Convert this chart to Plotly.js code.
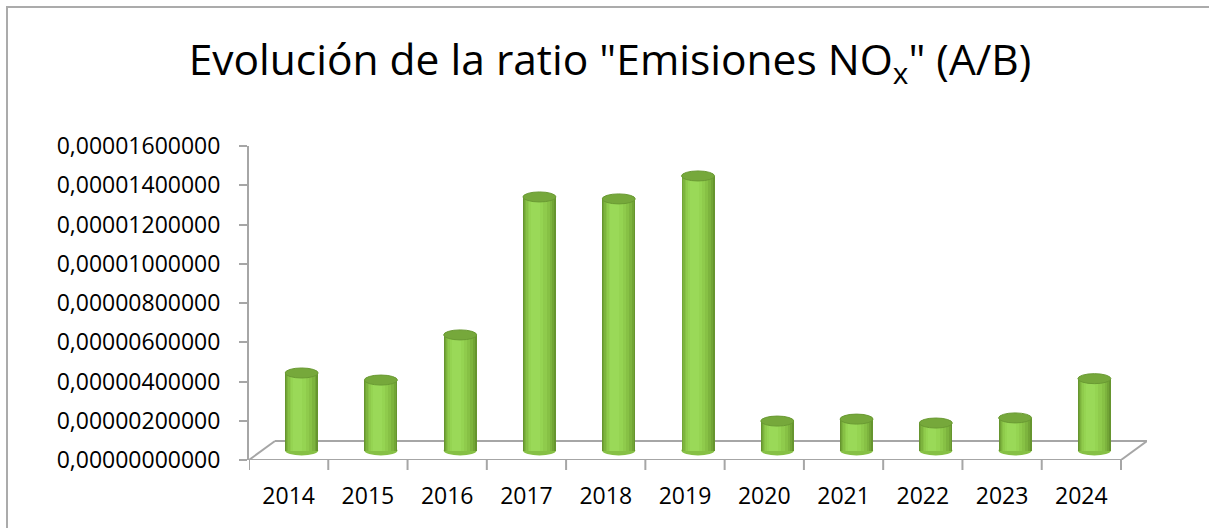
<!DOCTYPE html>
<html>
<head>
<meta charset="utf-8">
<script src="https://cdn.plot.ly/plotly-3.0.1.min.js"></script>
<style>
  html, body { margin: 0; padding: 0; background: #ffffff; overflow: hidden; }
  #wrap { position: relative; width: 1209px; height: 528px; overflow: hidden; }
  #chart { position: absolute; left: 0; top: 0; width: 1209px; height: 528px; }
  #frame { position: absolute; left: 6px; top: 6px; width: 1300px; height: 700px;
           border: 2px solid #ababab; pointer-events: none; }
</style>
</head>
<body>
<div id="wrap">
  <div id="chart"></div>
  <div id="frame"></div>
</div>
<script>
// ---- data ----
const years = ['2014', '2015', '2016', '2017', '2018', '2019', '2020', '2021', '2022', '2023', '2024'];
const ratios = [3.95e-6, 3.59e-6, 5.89e-6, 1.292e-5, 1.282e-5, 1.399e-5, 1.50e-6, 1.60e-6, 1.40e-6, 1.66e-6, 3.66e-6];
const yTickVals = [0, 2e-6, 4e-6, 6e-6, 8e-6, 1e-5, 1.2e-5, 1.4e-5, 1.6e-5];
const titleText = 'Evolución de la ratio "Emisiones NO<sub>x</sub>" (A/B)';

// ---- geometry (pixels) ----
const W = 1209, H = 528;
const M = { l: 249, r: 62, t: 146, b: 68 };
const plotW = W - M.l - M.r, plotH = H - M.t - M.b;
const yMax = yTickVals[yTickVals.length - 1];
const pxPerY = plotH / yMax;
const depthDx = 26, depthDy = 19;
const n = years.length;
const unitPx = (plotW - depthDx) / n;
const dxU = depthDx / unitPx;
const yBack = depthDy / pxPerY;
const yMid = yBack / 2;
const barW = 33 / unitPx;
const capH = 5 / pxPerY;
const xs = years.map((_, i) => i + dxU / 2);
const gray = '#a6a6a6';

// cylinder shading: layered bars (fraction of width start/end, colour)
const bands = [
  [0.00, 1.00, '#66952f'],
  [0.03, 0.95, '#72a536'],
  [0.06, 0.89, '#7db43e'],
  [0.10, 0.81, '#87c145'],
  [0.14, 0.72, '#8fcb4c'],
  [0.19, 0.62, '#95d452'],
  [0.25, 0.52, '#9ad958']
];

const traces = bands.map(([a, b, c]) => ({
  type: 'bar',
  x: xs,
  y: ratios,
  base: ratios.map(() => yMid),
  width: barW * (b - a),
  offset: -barW / 2 + barW * a,
  marker: { color: c, line: { width: 0 } },
  hoverinfo: 'skip',
  showlegend: false
}));

// ---- shapes: floor, tick marks, cylinder caps ----
const shapes = [];
const line = (x0, y0, x1, y1, extra) => Object.assign({
  type: 'line', xref: 'x', yref: 'y', x0, y0, x1, y1,
  line: { color: gray, width: 2 }, layer: 'below'
}, extra || {});
// floor outline
shapes.push(line(-0.5 + dxU, yBack, n - 0.5 + dxU, yBack));
shapes.push(line(-0.5, 0, -0.5 + dxU, yBack));
shapes.push(line(n - 0.5, 0, n - 0.5 + dxU, yBack));
shapes.push(line(-0.5, 0, n - 0.5, 0));
// category tick marks
for (let k = 0; k <= n; k++) {
  shapes.push({ type: 'line', xref: 'x', yref: 'paper', x0: k - 0.5, x1: k - 0.5,
    y0: 0, y1: -10 / plotH, line: { color: gray, width: 2 }, layer: 'below' });
}
// bottom ellipses
xs.forEach((x) => {
  shapes.push({ type: 'circle', xref: 'x', yref: 'y', layer: 'below',
    x0: x - barW / 2, x1: x + barW / 2, y0: yMid - capH, y1: yMid + capH,
    fillcolor: '#86c045', line: { width: 0 } });
});
// top caps
xs.forEach((x, i) => {
  const top = ratios[i] + yMid;
  shapes.push({ type: 'circle', xref: 'x', yref: 'y', layer: 'above',
    x0: x - barW / 2, x1: x + barW / 2, y0: top - capH, y1: top + capH,
    fillcolor: '#76a83b', line: { color: '#6a9a33', width: 1 } });
});

const layout = {
  width: W, height: H,
  margin: M,
  paper_bgcolor: 'rgba(0,0,0,0)',
  plot_bgcolor: 'rgba(0,0,0,0)',
  font: { family: 'Open Sans, sans-serif', size: 23, color: '#000000' },
  separators: ',.',
  barmode: 'overlay',
  bargap: 0,
  showlegend: false,
  title: {
    text: titleText,
    font: { family: 'Open Sans, sans-serif', size: 42.5, color: '#000000' },
    xref: 'container', yref: 'container',
    x: 610 / W, xanchor: 'center',
    y: 1 - 60 / H, yanchor: 'middle'
  },
  xaxis: {
    range: [-0.5, n - 0.5 + dxU],
    tickvals: years.map((_, i) => i),
    ticktext: years,
    ticks: '',
    showline: false, showgrid: false, zeroline: false,
    ticklabelstandoff: 20,
    fixedrange: true
  },
  yaxis: {
    range: [0, yMax],
    tickvals: yTickVals,
    tickformat: '.11f',
    ticks: 'outside', ticklen: 8, tickwidth: 2, tickcolor: gray,
    showline: true, linecolor: gray, linewidth: 2,
    showgrid: false, zeroline: false,
    ticklabelstandoff: 14,
    fixedrange: true
  },
  shapes: shapes
};

Plotly.newPlot('chart', traces, layout, { displayModeBar: false, staticPlot: true });
</script>
</body>
</html>
